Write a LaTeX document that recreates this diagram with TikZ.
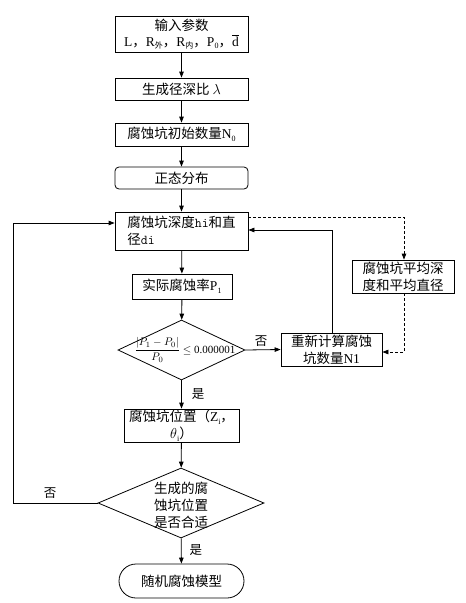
\documentclass[tikz,border=0pt]{standalone}
\usepackage{fontspec}
\setmainfont{Liberation Serif}
\newfontfamily\cjk{Noto Sans CJK SC}
\usetikzlibrary{shapes.geometric,arrows.meta}
\newcommand\lsub[1]{\raisebox{-0.35ex}{\fontsize{8}{8}\selectfont #1}}
\tikzset{
  x=1pt, y=-1pt,
  base/.style={draw, line width=0.8pt, inner sep=0pt, align=center,
    font=\fontsize{13.5}{17}\selectfont\cjk},
  boxn/.style={base, rectangle},
  roundn/.style={base, rectangle, rounded corners=4pt},
  termn/.style={base, rectangle, rounded corners=17pt},
  dian/.style={base, diamond},
  txt/.style={inner sep=0pt, align=center, font=\fontsize{13.5}{17}\selectfont\cjk},
  lbl/.style={inner sep=0pt, font=\fontsize{12.5}{14}\selectfont\cjk},
  conn/.style={line width=0.8pt, -{Triangle[length=6pt,width=4.5pt]}},
  dconn/.style={conn, dashed, dash pattern=on 3pt off 2pt},
}
\begin{document}
\begin{tikzpicture}
\useasboundingbox (0,0) rectangle (466,603);
\fill[white] (0,0) rectangle (466,603);

\node[boxn, minimum width=133pt, minimum height=36pt] (b1) at (181.5,34)
  {输入参数\\[-1pt]{\rmfamily L}，{\rmfamily R}\lsub{外}，{\rmfamily R}\lsub{内}，{\rmfamily P}\lsub{\rmfamily 0}，{\rmfamily$\overline{\mathrm{d}}$}};
\node[boxn, minimum width=133pt, minimum height=22pt] (b2) at (181.5,89)
  {生成径深比 $\lambda$};
\node[boxn, minimum width=133pt, minimum height=23pt] (b3) at (181.5,134.5)
  {腐蚀坑初始数量{\rmfamily N}\lsub{\rmfamily 0}};
\node[roundn, minimum width=133pt, minimum height=22pt] (b4) at (181.5,178)
  {正态分布};
\node[boxn, minimum width=133pt, minimum height=38pt] (b5) at (181.5,231) {};
\node[txt, align=left] (t5) at (b5.center) {腐蚀坑深度{\ttfamily hi}和直\\径{\ttfamily di}};
\node[boxn, minimum width=100pt, minimum height=25pt] (b6) at (182,286.5)
  {实际腐蚀率{\rmfamily P}\lsub{\rmfamily 1}};
\node[dian, minimum width=127pt, minimum height=60pt] (d1) at (181.5,350) {};
\node[txt, font=\fontsize{11}{13}\selectfont\rmfamily] (t1) at (185,350)
  {$\displaystyle\frac{\left|P_1-P_0\right|}{P_0}$ $\le$ 0.000001};
\node[boxn, minimum width=101pt, minimum height=33pt] (b7) at (331.5,349.5)
  {重新计算腐蚀\\坑数量{\rmfamily N1}};
\node[boxn, minimum width=102pt, minimum height=33pt] (b8) at (403,276.5)
  {腐蚀坑平均深\\度和平均直径};
\node[boxn, minimum width=115pt, minimum height=33pt] (b9) at (181.5,425.5)
  {腐蚀坑位置（{\rmfamily Z}\lsub{\rmfamily i}，\\{\rmfamily$\theta$}\lsub{\rmfamily i}）};
\node[dian, minimum width=166pt, minimum height=70pt] (d2) at (181,503) {};
\node[txt] (t2) at (181,505) {生成的腐\\蚀坑位置\\是否合适};
\node[termn, minimum width=125pt, minimum height=34pt] (b10) at (181.5,581)
  {随机腐蚀模型};

\coordinate (c1) at (332,230);
\coordinate (c2) at (404,217);
\coordinate (c3) at (404,352);
\coordinate (c4) at (13,503);
\coordinate (c5) at (13,223);

\draw[conn] (b1) -- (b2);
\draw[conn] (b2) -- (b3);
\draw[conn] (b3) -- (b4);
\draw[conn] (b4) -- (b5);
\draw[conn] (b5) -- (b6);
\draw[conn] (b6) -- (d1);
\draw[conn] (d1) -- node[lbl, right=10pt, pos=0.5] (l1) {是} (b9);
\draw[conn] (b9) -- (d2);
\draw[conn] (d2) -- node[lbl, right=8pt, pos=0.45] (l2) {是} (b10);
\draw[conn] (d1.east) -- node[lbl, above=3pt, pos=0.45] (l3) {否} (b7.west);
\draw[conn] (b7.north -| c1) -- (c1) -- (c1 -| b5.east);
\draw[dconn] (c2 -| b5.east) -- (c2) -- (b8.north -| c2);
\draw[dconn] (b8.south -| c3) -- (c3) -- (c3 -| b7.east);
\draw[conn] (d2.west) -- node[lbl, above=4pt, pos=0.56] (l4) {否} (c4) -- (c5) -- (c5 -| b5.west);
\end{tikzpicture}
\end{document}
